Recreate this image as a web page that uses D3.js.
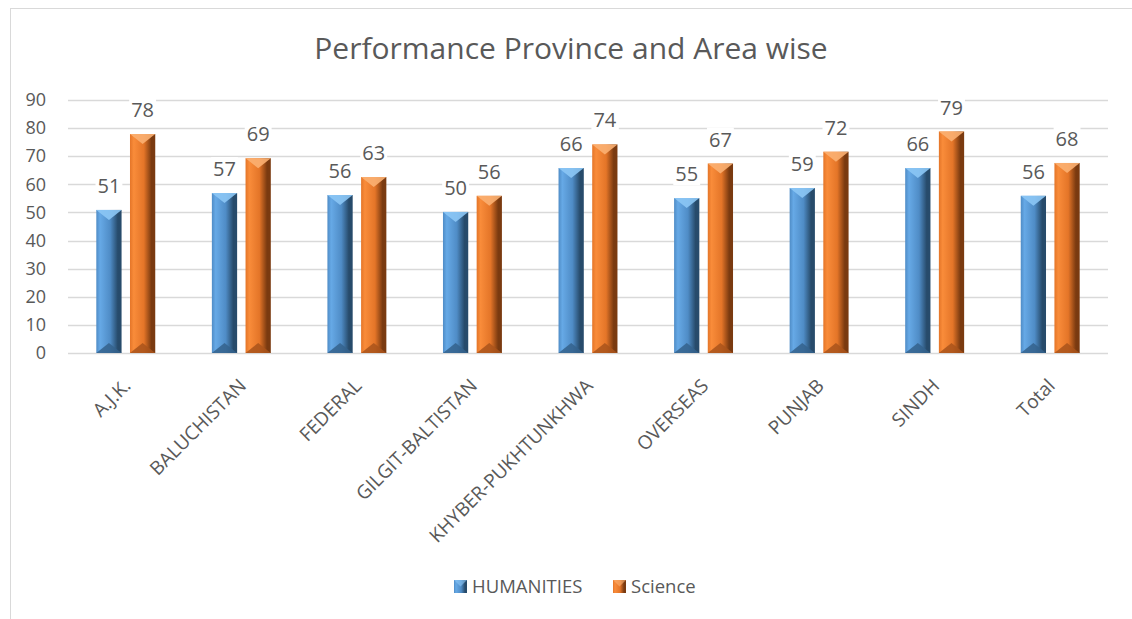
<!DOCTYPE html>
<html>
<head>
<meta charset="utf-8">
<script src="https://cdn.jsdelivr.net/npm/d3@7"></script>
<style>
  body { margin: 0; background: #fff; }
  text { font-family: "Open Sans", "Noto Sans", sans-serif; fill: #595959; }
</style>
</head>
<body>
<div id="chart"></div>
<script>
// data
const categories = ['A.J.K.', 'BALUCHISTAN', 'FEDERAL', 'GILGIT-BALTISTAN', 'KHYBER-PUKHTUNKHWA', 'OVERSEAS', 'PUNJAB', 'SINDH', 'Total'];
const humanities = [50.9, 56.9, 56.2, 50.2, 65.8, 55.1, 58.7, 65.8, 55.9];
const science = [77.9, 69.3, 62.6, 55.9, 74.2, 67.4, 71.6, 78.8, 67.6];
const seriesNames = ['HUMANITIES', 'Science'];
const yTicks = [0, 10, 20, 30, 40, 50, 60, 70, 80, 90];

const W = 1132, H = 619;
const margin = { top: 100, right: 24, bottom: 266, left: 68 };
const width = W - margin.left - margin.right;
const height = H - margin.top - margin.bottom;

const colors = {
  HUMANITIES: { light: '#66a9e6', mid: '#4f8cc6', dark: '#274b6b', top: '#8cc6f5', bottom: '#34628c' },
  Science: { light: '#f98c3a', mid: '#e47528', dark: '#7a3a10', top: '#fbb072', bottom: '#a9541b' }
};

const svg = d3.select('#chart').append('svg')
  .attr('width', W)
  .attr('height', H);

// gradients for the bevelled bars
const defs = svg.append('defs');
seriesNames.forEach(function (s) {
  const g = defs.append('linearGradient').attr('id', 'grad-' + s).attr('x1', 0).attr('x2', 1).attr('y1', 0).attr('y2', 0);
  g.append('stop').attr('offset', '0%').attr('stop-color', colors[s].mid);
  g.append('stop').attr('offset', '15%').attr('stop-color', colors[s].light);
  g.append('stop').attr('offset', '55%').attr('stop-color', colors[s].mid);
  g.append('stop').attr('offset', '85%').attr('stop-color', colors[s].dark);
  g.append('stop').attr('offset', '100%').attr('stop-color', colors[s].dark);
});

// chart frame
svg.append('rect')
  .attr('x', 10.5).attr('y', 8.5)
  .attr('width', W).attr('height', H)
  .attr('fill', 'none').attr('stroke', '#d9d9d9');

svg.append('text')
  .attr('x', 571).attr('y', 59)
  .attr('text-anchor', 'middle')
  .style('font-size', '30px')
  .text('Performance Province and Area wise');

const g = svg.append('g').attr('transform', `translate(${margin.left},${margin.top})`);

const x = d3.scaleBand().domain(categories).range([0, width]).paddingInner(0).paddingOuter(0);
const x1 = d3.scaleBand().domain(seriesNames).range([x.bandwidth() * 0.245, x.bandwidth() * 0.755]).paddingInner(0.25);
const y = d3.scaleLinear().domain([0, 90]).range([height, 0]);

// gridlines
g.append('g')
  .selectAll('line')
  .data(yTicks)
  .enter()
  .append('line')
  .attr('x1', 0).attr('x2', width)
  .attr('y1', d => Math.round(y(d)) + 0.5)
  .attr('y2', d => Math.round(y(d)) + 0.5)
  .attr('stroke', '#d9d9d9')
  .attr('stroke-width', 1.5);

// y axis labels
const yAxis = g.append('g')
  .call(d3.axisLeft(y).tickValues(yTicks).tickSize(0));
yAxis.select('.domain').remove();
yAxis.selectAll('text')
  .style('font-size', '18px')
  .attr('fill', '#595959')
  .attr('text-anchor', 'end')
  .attr('x', -22);

// x axis labels
const xAxis = g.append('g')
  .attr('transform', `translate(0,${height})`)
  .call(d3.axisBottom(x).tickSize(0).tickPadding(0));
xAxis.select('.domain').remove();
xAxis.selectAll('text')
  .style('font-size', '19px')
  .attr('fill', '#595959')
  .attr('text-anchor', 'end')
  .attr('dy', 0)
  .attr('transform', 'translate(6,34) rotate(-45)');

const rows = categories.map(function (c, i) {
  return { cat: c, values: [{ s: 'HUMANITIES', v: humanities[i] }, { s: 'Science', v: science[i] }] };
});

const groups = g.selectAll('.grp')
  .data(rows)
  .enter()
  .append('g')
  .attr('class', 'grp')
  .attr('transform', d => `translate(${x(d.cat)},0)`);

const bars = groups.selectAll('.bar')
  .data(d => d.values)
  .enter()
  .append('g')
  .attr('class', 'bar');

const bw = x1.bandwidth();
const bev = Math.min(10, bw * 0.4);

bars.append('rect')
  .attr('x', d => x1(d.s))
  .attr('y', d => y(d.v))
  .attr('width', bw)
  .attr('height', d => height - y(d.v))
  .attr('fill', d => `url(#grad-${d.s})`);

// top bevel
bars.append('path')
  .attr('d', function (d) {
    const x0 = x1(d.s), t = y(d.v);
    return `M${x0},${t}L${x0 + bw},${t}L${x0 + bw / 2},${t + bev}Z`;
  })
  .attr('fill', d => colors[d.s].top)
  .attr('opacity', 0.9);

// bottom bevel
bars.append('path')
  .attr('d', function (d) {
    const x0 = x1(d.s), b = height;
    return `M${x0},${b}L${x0 + bw},${b}L${x0 + bw / 2},${b - bev}Z`;
  })
  .attr('fill', d => colors[d.s].bottom)
  .attr('opacity', 0.85);

// value labels, white box behind like the original
const labels = bars.append('g');
labels.append('rect').attr('fill', '#fff');
labels.append('text')
  .attr('x', d => x1(d.s) + bw / 2)
  .attr('y', d => y(d.v) - 17)
  .attr('text-anchor', 'middle')
  .style('font-size', '20px')
  .attr('fill', '#404040')
  .text(d => d3.format('.0f')(d.v));
labels.each(function () {
  const bb = d3.select(this).select('text').node().getBBox();
  d3.select(this).select('rect')
    .attr('x', bb.x - 2).attr('y', bb.y + 2)
    .attr('width', bb.width + 4).attr('height', bb.height - 4);
});

// legend
const legend = svg.append('g').attr('transform', 'translate(454,593)');
const legendX = [0, 159];
seriesNames.forEach(function (s, i) {
  const lg = legend.append('g').attr('transform', `translate(${legendX[i]},0)`);
  lg.append('rect').attr('x', 0).attr('y', -13).attr('width', 13).attr('height', 13).attr('fill', `url(#grad-${s})`);
  lg.append('path').attr('d', 'M0,-13L13,-13L6.5,-6.5Z').attr('fill', colors[s].top).attr('opacity', 0.6);
  lg.append('text').attr('x', 18).attr('y', 0).style('font-size', '18.5px').text(s);
});
</script>
</body>
</html>
